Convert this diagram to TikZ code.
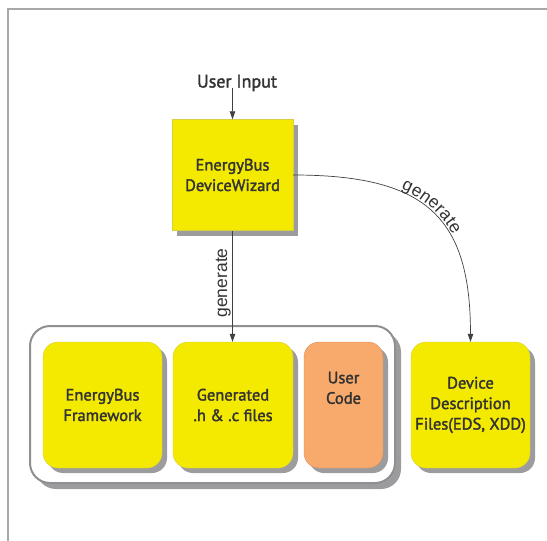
\documentclass[tikz,border=0pt]{standalone}
\usepackage{fontspec}
\setmainfont{PT Sans}[UprightFeatures={FakeBold=2}]
\newfontfamily\lblfont{Liberation Sans}
\usetikzlibrary{shadows,arrows.meta,decorations.text}
\definecolor{boxyellow}{HTML}{F3EA00}
\definecolor{boxedge}{HTML}{D8D040}
\definecolor{codeorange}{HTML}{F8A96C}
\definecolor{codeedge}{HTML}{E09060}
\definecolor{shadowgray}{HTML}{9C9C9E}
\definecolor{contgray}{HTML}{909092}
\definecolor{framegray}{HTML}{A8A8A8}
\definecolor{txtgray}{HTML}{333333}
\definecolor{linegray}{HTML}{404040}
\tikzset{
  box/.style={fill=boxyellow, draw=boxedge, line width=0.4pt, align=center, inner sep=0pt,
    text=txtgray, font=\fontsize{16.5}{20.5}\selectfont,
    drop shadow={shadow xshift=5pt, shadow yshift=-5pt, fill=shadowgray, opacity=1}},
  rbox/.style={box, rounded corners=15pt, minimum height=126pt},
  container/.style={fill=white, draw=contgray, line width=2pt, rounded corners=20pt,
    minimum width=365pt, minimum height=157pt,
    drop shadow={shadow xshift=6pt, shadow yshift=-6pt, fill=shadowgray, opacity=1}},
  arr/.style={draw=linegray, line width=0.7pt, -{Triangle[length=8pt,width=5.5pt]}},
  lbl/.style={text=txtgray, font=\lblfont\fontsize{17.5}{17.5}\selectfont},
}
\begin{document}
\begin{tikzpicture}[x=1pt,y=1pt]
\useasboundingbox (0,0) rectangle (547,-541);
\draw[framegray, line width=1.5pt] (8,-541) -- (8,-9) -- (547,-9);

\node[text=txtgray, font=\fontsize{18}{20}\selectfont] (ui) at (237,-83) {User Input};
\node[box, minimum width=121pt, minimum height=111pt] (wiz) at (232.5,-175) {EnergyBus\\DeviceWizard};

\node[container] (cont) at (212.5,-404.5) {};
\node[rbox, minimum width=119pt] (fw) at (102.5,-405) {EnergyBus\\Framework};
\node[rbox, minimum width=120pt] (gen) at (233,-405) {Generated\\.h \& .c files};
\node[rbox, minimum width=79pt, fill=codeorange, draw=codeedge] (uc) at (343.5,-405) {User\\Code\\[14pt]};
\node[rbox, minimum width=119pt] (dev) at (470.5,-405) {Device\\Description\\Files(EDS, XDD)};

\coordinate (uistart) at (wiz.north |- ui.base);
\draw[arr] (uistart) -- (wiz.north);

\draw[arr] (wiz.south) -- (wiz.south |- gen.north)
  node[lbl, pos=0.47, rotate=90, anchor=south, inner sep=1.5pt] {generate};

\draw[arr] (wiz.east) .. controls (426,-175) and (470.5,-216.75) .. (dev.north);
\path[decorate, decoration={text along path, text align=center, raise=2.5pt,
  text={|\color{txtgray}\lblfont\fontsize{17.5}{17.5}\selectfont|generate}}]
  (wiz.east) .. controls (426,-175) and (470.5,-216.75) .. (dev.north);
\end{tikzpicture}
\end{document}
